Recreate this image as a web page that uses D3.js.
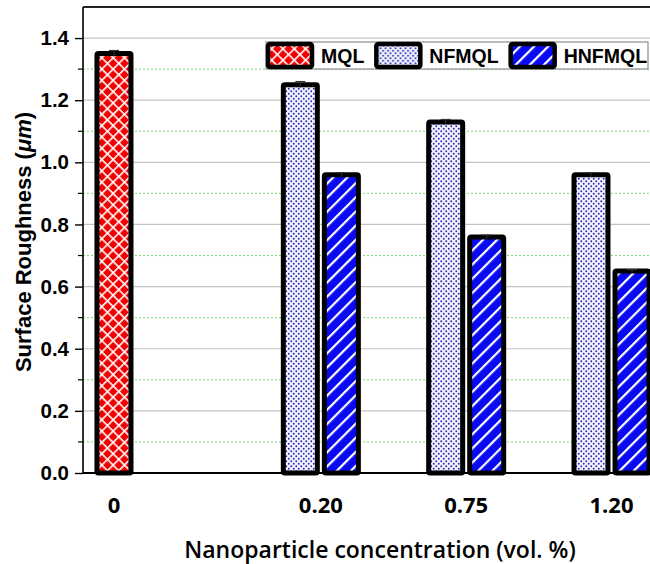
<!DOCTYPE html>
<html>
<head>
<meta charset="utf-8">
<script src="https://cdn.jsdelivr.net/npm/d3@7"></script>
<style>
  body { margin: 0; background: #fff; }
  svg { display: block; }
</style>
</head>
<body>
<div class="chart"></div>
<script>
const categories = ['0', '0.20', '0.75', '1.20']
const seriesNames = ['MQL', 'NFMQL', 'HNFMQL']
const mqlValues = [1.35, null, null, null]
const nfmqlValues = [null, 1.25, 1.13, 0.96]
const hnfmqlValues = [null, 0.96, 0.76, 0.65]
const mqlErrors = [0.01, null, null, null]
const nfmqlErrors = [null, 0.01, 0.008, 0.007]
const hnfmqlErrors = [null, 0.007, 0.006, 0.005]
const yTicks = [0, 0.2, 0.4, 0.6, 0.8, 1.0, 1.2, 1.4]
const yMinorTicks = [0.1, 0.3, 0.5, 0.7, 0.9, 1.1, 1.3]

const width = 650
const height = 564
const plotLeft = 83
const plotTop = 7
const plotBottom = 473

const valuesBySeries = [mqlValues, nfmqlValues, hnfmqlValues]
const errorsBySeries = [mqlErrors, nfmqlErrors, hnfmqlErrors]
var dataset = []
categories.forEach((c, i) => {
  seriesNames.forEach((s, j) => {
    if (valuesBySeries[j][i] != null) {
      dataset.push({cat: c, series: s, value: valuesBySeries[j][i], err: errorsBySeries[j][i]})
    }
  })
})

const svg = d3.select('.chart')
  .append('svg')
  .attr('width', width)
  .attr('height', height)

// fill patterns
const defs = svg.append('defs')

const pMql = defs.append('pattern')
  .attr('id', 'pat-MQL')
  .attr('patternUnits', 'userSpaceOnUse')
  .attr('width', 8).attr('height', 8)
  .attr('patternTransform', 'rotate(45)')
pMql.append('rect').attr('width', 8).attr('height', 8).attr('fill', '#f00000')
pMql.append('rect').attr('x', 0).attr('y', 0).attr('width', 8).attr('height', 1.6).attr('fill', '#fff')
pMql.append('rect').attr('x', 0).attr('y', 0).attr('width', 1.6).attr('height', 8).attr('fill', '#fff')

const pNf = defs.append('pattern')
  .attr('id', 'pat-NFMQL')
  .attr('patternUnits', 'userSpaceOnUse')
  .attr('width', 5).attr('height', 5)
pNf.append('rect').attr('width', 5).attr('height', 5).attr('fill', '#f2f2ff')
pNf.append('circle').attr('cx', 1.25).attr('cy', 1.25).attr('r', 0.95).attr('fill', '#2828ad')
pNf.append('circle').attr('cx', 3.75).attr('cy', 3.75).attr('r', 0.95).attr('fill', '#2828ad')

const pHn = defs.append('pattern')
  .attr('id', 'pat-HNFMQL')
  .attr('patternUnits', 'userSpaceOnUse')
  .attr('width', 10).attr('height', 10)
  .attr('patternTransform', 'rotate(-45)')
pHn.append('rect').attr('width', 10).attr('height', 10).attr('fill', '#0a0af2')
pHn.append('rect').attr('x', 0).attr('y', 0).attr('width', 10).attr('height', 2.2).attr('fill', '#fff')

const clip = defs.append('clipPath').attr('id', 'plot-clip')
clip.append('rect').attr('x', plotLeft).attr('y', 0).attr('width', width - plotLeft).attr('height', plotBottom + 4)

var yScale = d3.scaleLinear()
  .domain([0, 1.5])
  .range([plotBottom, plotTop])

var xScale = d3.scaleBand()
  .domain(categories)
  .range([plotLeft, 663])
  .paddingInner(0.153)
  .paddingOuter(0.072)

var slotScale = d3.scaleBand()
  .domain(seriesNames)
  .range([0, xScale.bandwidth()])

const barWidth = 34

// grid
svg.append('g')
  .selectAll('line')
  .data(yTicks.filter(d => d > 0))
  .enter()
  .append('line')
  .attr('x1', plotLeft).attr('x2', width)
  .attr('y1', d => yScale(d)).attr('y2', d => yScale(d))
  .attr('stroke', '#c4c4c4')
  .attr('stroke-width', 1.2)

svg.append('g')
  .selectAll('line')
  .data(yMinorTicks)
  .enter()
  .append('line')
  .attr('x1', plotLeft).attr('x2', width)
  .attr('y1', d => yScale(d)).attr('y2', d => yScale(d))
  .attr('stroke', '#78dc78')
  .attr('stroke-width', 1)
  .attr('stroke-dasharray', '2,2')

// bars
const bars = svg.append('g').attr('clip-path', 'url(#plot-clip)')

bars.selectAll('rect')
  .data(dataset)
  .enter()
  .append('rect')
  .attr('x', d => xScale(d.cat) + slotScale(d.series) + (slotScale.bandwidth() - barWidth) / 2)
  .attr('y', d => yScale(d.value))
  .attr('width', barWidth)
  .attr('height', d => yScale(0) - yScale(d.value))
  .attr('rx', 1.5)
  .attr('fill', d => 'url(#pat-' + d.series + ')')
  .attr('stroke', '#000')
  .attr('stroke-width', 5)

// error bars
const errG = bars.selectAll('.err')
  .data(dataset)
  .enter()
  .append('g')
  .attr('class', 'err')
  .attr('transform', d => 'translate(' + (xScale(d.cat) + slotScale(d.series) + slotScale.bandwidth() / 2) + ',0)')

errG.append('line')
  .attr('y1', d => yScale(d.value - d.err)).attr('y2', d => yScale(d.value + d.err))
  .attr('stroke', '#333').attr('stroke-width', 1)
errG.append('line')
  .attr('x1', -5).attr('x2', 5)
  .attr('y1', d => yScale(d.value + d.err)).attr('y2', d => yScale(d.value + d.err))
  .attr('stroke', '#333').attr('stroke-width', 1.2)

// frame
svg.append('line')
  .attr('x1', plotLeft).attr('x2', width)
  .attr('y1', yScale(1.5)).attr('y2', yScale(1.5))
  .attr('stroke', '#222').attr('stroke-width', 2)

svg.append('line')
  .attr('x1', plotLeft).attr('x2', width)
  .attr('y1', yScale(0)).attr('y2', yScale(0))
  .attr('stroke', '#000').attr('stroke-width', 2)

// y axis
const yAxis = d3.axisLeft(yScale)
  .tickValues(yTicks)
  .tickFormat(d3.format('.1f'))
  .tickSize(8)
  .tickPadding(6)

const yAxisG = svg.append('g')
  .attr('transform', 'translate(' + plotLeft + ',0)')
  .call(yAxis)
yAxisG.select('.domain').attr('stroke', '#000').attr('stroke-width', 1.6)
  .attr('d', 'M0,' + yScale(0) + 'V' + yScale(1.5))
yAxisG.selectAll('.tick line').attr('stroke-width', 1.4)
yAxisG.selectAll('text')
  .attr('font-family', 'Liberation Sans, Arial, sans-serif')
  .attr('font-weight', 'bold')
  .attr('font-size', 20.5)
  .attr('fill', '#000')

yAxisG.selectAll('.minor')
  .data(yMinorTicks)
  .enter()
  .append('line')
  .attr('class', 'minor')
  .attr('x1', -5).attr('x2', 0)
  .attr('y1', d => yScale(d)).attr('y2', d => yScale(d))
  .attr('stroke', '#000').attr('stroke-width', 1.2)

// x tick labels, centred under the bars present in each group
svg.append('g')
  .selectAll('text')
  .data(categories)
  .enter()
  .append('text')
  .attr('x', c => d3.mean(dataset.filter(d => d.cat === c), d => xScale(d.cat) + slotScale(d.series) + slotScale.bandwidth() / 2))
  .attr('y', 513)
  .attr('text-anchor', 'middle')
  .attr('font-family', 'Open Sans, sans-serif')
  .attr('font-weight', 'bold')
  .attr('font-size', 22)
  .text(d => d)

// axis titles
svg.append('text')
  .attr('x', 380)
  .attr('y', 558)
  .attr('text-anchor', 'middle')
  .attr('font-family', 'Open Sans, sans-serif')
  .attr('font-weight', 600)
  .attr('font-size', 23)
  .text('Nanoparticle concentration (vol. %)')

const yTitle = svg.append('text')
  .attr('transform', 'translate(31,242) rotate(-90)')
  .attr('text-anchor', 'middle')
  .attr('font-family', 'Liberation Sans, Arial, sans-serif')
  .attr('font-weight', 'bold')
  .attr('font-size', 22)
yTitle.append('tspan').text('Surface Roughness (')
yTitle.append('tspan').attr('font-style', 'italic').text('\u03bcm')
yTitle.append('tspan').text(')')

// legend
const legend = svg.append('g').attr('transform', 'translate(266,42)')
legend.append('rect')
  .attr('width', 382).attr('height', 27)
  .attr('fill', '#fff')
  .attr('stroke', '#777').attr('stroke-width', 1)

var lx = 0
seriesNames.forEach(s => {
  const item = legend.append('g').attr('transform', 'translate(' + lx + ',0)')
  item.append('rect')
    .attr('x', 2).attr('y', 2)
    .attr('width', 44).attr('height', 23)
    .attr('rx', 2)
    .attr('fill', 'url(#pat-' + s + ')')
    .attr('stroke', '#000').attr('stroke-width', 4.5)
  const t = item.append('text')
    .attr('x', 55).attr('y', 21)
    .attr('font-family', 'Liberation Sans, Arial, sans-serif')
    .attr('font-weight', 'bold')
    .attr('font-size', 19.5)
    .text(s)
  lx += 55 + t.node().getComputedTextLength() + 10
})
</script>
</body>
</html>
